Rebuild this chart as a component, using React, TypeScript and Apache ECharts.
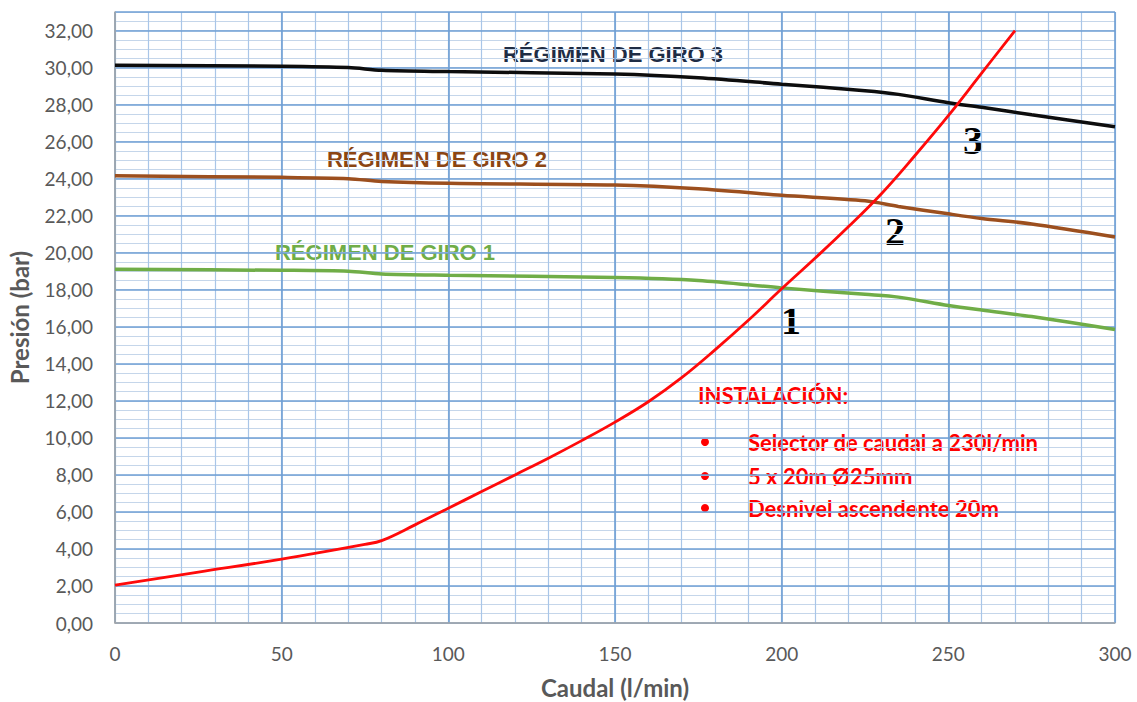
import React, { useEffect, useRef } from "react";
import * as echarts from "echarts";

const caudal = [0, 50, 70, 80, 100, 150, 175, 200, 225, 235, 250, 260, 275, 300];
const giro3 = [30.12, 30.07, 30.0, 29.85, 29.78, 29.65, 29.45, 29.1, 28.75, 28.55, 28.1, 27.85, 27.45, 26.8];
const giro2 = [24.15, 24.07, 24.0, 23.85, 23.75, 23.65, 23.45, 23.1, 22.8, 22.5, 22.1, 21.85, 21.55, 20.85];
const giro1 = [19.1, 19.05, 19.0, 18.85, 18.78, 18.66, 18.5, 18.1, 17.75, 17.6, 17.15, 16.9, 16.55, 15.85];

const instCaudal = [0, 25, 50, 75, 80, 90, 100, 110, 120, 130, 140, 150, 160, 170, 180, 190, 200, 210, 220, 230, 240, 250, 260, 270];
const instPresion = [2.05, 2.75, 3.45, 4.25, 4.45, 5.3, 6.2, 7.1, 8.0, 8.9, 9.85, 10.85, 11.95, 13.25, 14.75, 16.35, 18.05, 19.7, 21.4, 23.2, 25.25, 27.4, 29.7, 32.0];

const yTickMax = 32;
const instLines = ["Selector de caudal a 230l/min", "5 x 20m Ø25mm", "Desnivel ascendente 20m"];

const zip = (xs: number[], ys: number[]) => xs.map((x, i) => [x, ys[i]]);

export default function App() {
  const ref = useRef<HTMLDivElement>(null);
  useEffect(() => {
    if (!ref.current) return;
    const chart = echarts.init(ref.current, null, { renderer: "svg" });
    const font = "Lato, 'Open Sans', sans-serif";
    const sans = "'Liberation Sans', Arial, sans-serif";
    const lineSeries = (name: string, xs: number[], ys: number[], color: string, width: number, z = 3) => ({
      name,
      type: "line",
      data: zip(xs, ys),
      smooth: 0.3,
      showSymbol: false,
      symbol: "none",
      lineStyle: { color, width },
      z,
    });
    chart.setOption({
      animation: false,
      backgroundColor: "#ffffff",
      grid: { left: 115, right: 22, top: 12, bottom: 79, containLabel: false, outerBoundsMode: "none" },
      xAxis: [
        {
          type: "value",
          min: 0,
          max: 300,
          interval: 50,
          name: "Caudal (l/min)",
          nameLocation: "middle",
          nameGap: 52,
          nameTextStyle: { color: "#595959", fontSize: 24, fontWeight: "bold", fontFamily: font },
          axisLine: { show: true, onZero: false, lineStyle: { color: "#a6a6a6", width: 1.5 } },
          axisTick: { show: false },
          axisLabel: { color: "#595959", fontSize: 19, margin: 21, fontFamily: font },
          splitLine: { show: true, lineStyle: { color: "#6f9fd4", width: 1.6 } },
          z: 2,
        },
        {
          type: "value",
          min: 0,
          max: 300,
          interval: 10,
          axisLine: { show: false },
          axisTick: { show: false },
          axisLabel: { show: false },
          splitLine: { show: true, lineStyle: { color: "#a9c6e8", width: 1.2 } },
          z: 1,
        },
      ],
      yAxis: [
        {
          type: "value",
          min: 0,
          max: 33,
          interval: 2,
          name: "Presión (bar)",
          nameLocation: "middle",
          nameGap: 84,
          nameTextStyle: { color: "#595959", fontSize: 24, fontWeight: "bold", fontFamily: font },
          axisLine: { show: true, lineStyle: { color: "#a6a6a6", width: 1.5 } },
          axisTick: { show: false },
          axisLabel: {
            color: "#595959",
            fontSize: 19,
            margin: 22,
            fontFamily: font,
            formatter: (v: number) => (v > yTickMax ? "" : v.toFixed(2).replace(".", ",")),
          },
          splitLine: { show: true, lineStyle: { color: "#6f9fd4", width: 1.6 } },
          z: 2,
        },
        {
          type: "value",
          min: 0,
          max: 33,
          interval: 0.5,
          axisLine: { show: false },
          axisTick: { show: false },
          axisLabel: { show: false },
          splitLine: { show: true, lineStyle: { color: "#c5d6ea", width: 1.2 } },
          z: 1,
        },
      ],
      series: [
        lineSeries("RÉGIMEN DE GIRO 3", caudal, giro3, "#0d0d0d", 3.5),
        lineSeries("RÉGIMEN DE GIRO 2", caudal, giro2, "#9c4f1e", 3.5),
        lineSeries("RÉGIMEN DE GIRO 1", caudal, giro1, "#70ad47", 3.5),
        { ...lineSeries("INSTALACIÓN", instCaudal, instPresion, "#ff0a0a", 2.8, 4), smooth: 0.4 },
      ],
      graphic: [
        { type: "text", x: 613, y: 54, style: { text: "RÉGIMEN DE GIRO 3", fill: "#1f2d45", font: `bold 22px ${sans}`, textAlign: "center", textVerticalAlign: "middle" } },
        { type: "text", x: 437, y: 159, style: { text: "RÉGIMEN DE GIRO 2", fill: "#8b4513", font: `bold 22px ${sans}`, textAlign: "center", textVerticalAlign: "middle" } },
        { type: "text", x: 385, y: 252, style: { text: "RÉGIMEN DE GIRO 1", fill: "#70ad47", font: `bold 22px ${sans}`, textAlign: "center", textVerticalAlign: "middle" } },
        { type: "text", x: 791, y: 320, style: { text: "1", fill: "#000", font: `bold 40px 'Liberation Serif', serif`, textAlign: "center", textVerticalAlign: "middle" } },
        { type: "text", x: 895, y: 231, style: { text: "2", fill: "#000", font: `bold 40px 'Liberation Serif', serif`, textAlign: "center", textVerticalAlign: "middle" } },
        { type: "text", x: 973, y: 140, style: { text: "3", fill: "#000", font: `bold 40px 'Liberation Serif', serif`, textAlign: "center", textVerticalAlign: "middle" } },
        { type: "text", x: 698, y: 395, style: { text: "INSTALACIÓN:", fill: "#ff0000", font: `bold 22px ${font}`, textAlign: "left", textVerticalAlign: "middle" } },
        ...instLines.flatMap((t, i) => {
          const y = [442, 476, 508][i];
          return [
            { type: "circle", shape: { cx: 705, cy: y, r: 4 }, style: { fill: "#ff0000" } },
            { type: "text", x: 748, y, style: { text: t, fill: "#ff0000", font: `bold 22px ${font}`, textAlign: "left", textVerticalAlign: "middle" } },
          ];
        }),
      ],
    });
    return () => chart.dispose();
  }, []);
  return <div ref={ref} style={{ width: 1137, height: 702, position: "absolute", left: 0, top: 0 }} />;
}
